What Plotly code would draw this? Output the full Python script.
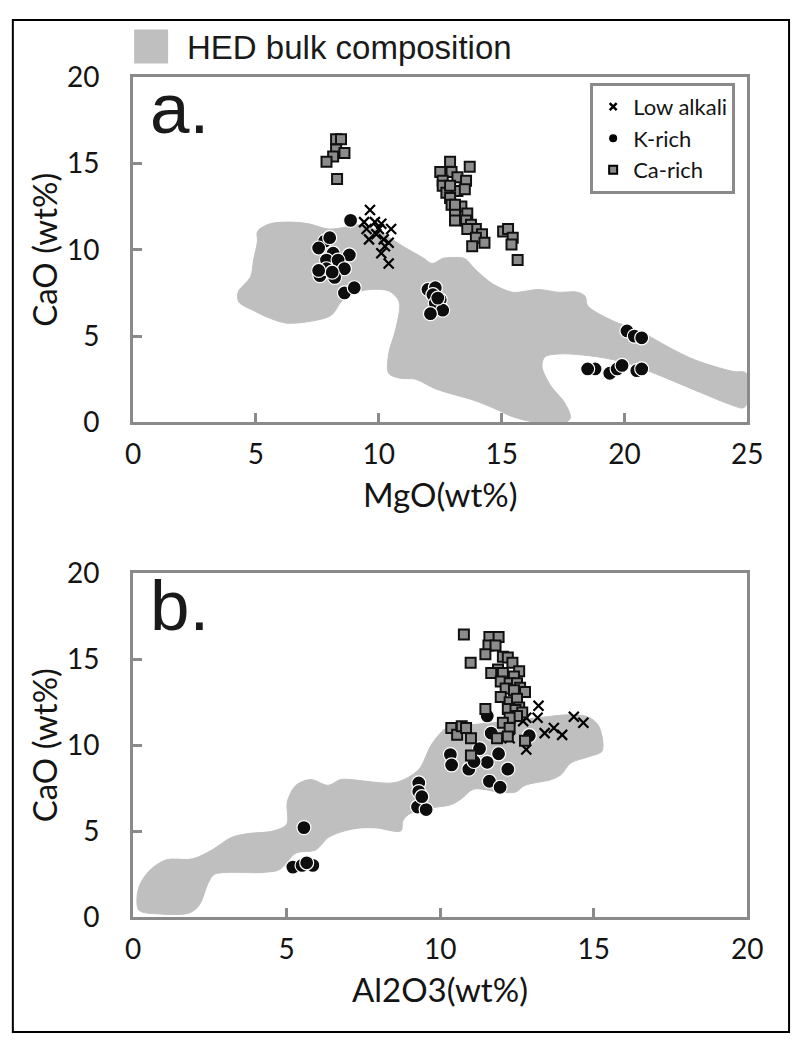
import plotly.graph_objects as go

# ---------------- data ----------------
# HED bulk composition field, panel a (MgO, CaO)
hed_mgo_a = [5.57, 6.36, 7.15, 7.94, 8.62, 9.13, 9.8, 10.43, 11.1, 11.78, 12.17, 12.6, 13.0, 13.48,
             13.95, 14.66, 15.45, 15.97, 16.5, 17.3, 18.1, 18.4, 18.5, 19.5, 20.6, 21.8, 22.85, 24.4,
             24.95, 24.95, 24.8, 24.15, 23.1, 21.5, 20.2, 18.9, 17.4, 16.76, 16.64, 17.0, 17.55, 17.8,
             17.6, 16.44, 15.45, 14.66, 13.87, 12.3, 11.5, 10.83, 10.4, 10.4, 10.7, 10.83, 10.43, 9.64,
             8.85, 8.46, 8.06, 7.27, 6.25, 5.57, 4.9, 4.3, 4.27, 4.78, 4.9, 5.06, 5.06]
hed_cao_a = [11.5, 11.6, 11.5, 11.2, 11.3, 11.45, 11.2, 10.7, 10.1, 9.55, 9.2, 9.5, 9.55, 9.5,
             8.83, 8.0, 7.54, 7.6, 7.7, 7.54, 7.54, 7.3, 6.76, 5.9, 5.3, 4.36, 3.63, 2.96,
             2.85, 1.0, 0.84, 1.12, 1.73, 2.68, 3.4, 3.8, 3.97, 3.8, 3.24, 2.12, 1.17, 0.28,
             0.0, 0.0, 0.33, 0.84, 1.28, 1.95, 2.5, 2.57, 2.85, 3.97, 5.47, 6.98, 7.6, 7.7,
             7.43, 6.98, 6.2, 5.87, 5.75, 6.03, 6.48, 6.98, 7.54, 8.44, 9.4, 10.5, 11.06]

# HED bulk composition field, panel b (Al2O3, CaO)
hed_al_b = [0.13, 0.25, 0.57, 1.07, 1.93, 2.56, 3.19, 3.73, 4.55, 5.0, 5.02, 5.3, 5.78, 6.35, 6.76,
            7.39, 7.93, 8.56, 9.29, 9.73, 10.24, 11.09, 12.13, 13.2, 14.25, 14.79, 15.13, 15.29,
            15.26, 14.88, 14.25, 13.93, 13.62, 12.76, 12.45, 11.94, 11.09, 10.68, 10.36, 9.6, 8.97,
            8.78, 8.72, 7.93, 7.39, 6.89, 6.35, 5.94, 5.3, 4.77, 4.23, 2.65, 2.46, 2.15, 1.83, 0.88, 0.19]
hed_cao_b = [1.24, 2.0, 2.76, 3.32, 3.38, 3.89, 4.62, 4.85, 5.0, 5.4, 6.7, 7.66, 8.0, 7.66, 8.0,
             7.94, 7.83, 7.83, 8.56, 10.08, 11.04, 11.2, 11.38, 11.6, 11.77, 11.66, 11.2, 10.25,
             9.63, 9.35, 8.96, 8.28, 8.0, 7.66, 7.27, 7.27, 7.44, 6.87, 6.54, 6.31, 5.97,
             5.58, 5.01, 5.18, 5.18, 5.01, 4.62, 3.89, 3.72, 2.76, 2.59, 2.48, 2.03, 0.68, 0.23, 0.17, 0.39]

# Panel a: MgO vs CaO
low_alkali_mgo = [9.64, 9.4, 9.84, 10.1, 9.5, 10.0, 10.5, 9.9, 9.6, 10.2, 10.4, 10.25, 10.1, 10.4]
low_alkali_cao_a = [12.3, 11.6, 11.6, 11.5, 11.2, 11.2, 11.2, 10.9, 10.6, 10.6, 10.4, 10.2, 9.8, 9.2]

k_rich_mgo = [8.85, 7.8, 8.0, 7.55, 8.14, 8.8, 7.87, 8.34, 8.6, 7.6, 7.87, 8.2, 8.1, 8.6, 9.0, 7.55,
              12.0, 12.3, 12.2, 12.5, 12.3, 12.6, 12.1, 12.4,
              20.1, 20.4, 20.7, 18.8, 18.5, 19.4, 19.7, 19.9, 20.5, 20.7]
k_rich_cao_a = [11.7, 10.5, 10.7, 10.1, 9.8, 9.7, 9.4, 9.4, 8.9, 8.5, 8.9, 8.4, 8.7, 7.5, 7.8, 8.8,
                7.7, 7.8, 7.4, 7.1, 6.9, 6.5, 6.3, 7.2,
                5.3, 5.0, 4.9, 3.1, 3.1, 2.85, 3.1, 3.3, 3.0, 3.1]

ca_rich_mgo = [8.26, 8.46, 8.26, 8.6, 8.14, 7.87, 8.3,
               12.9, 13.7, 12.5, 12.96, 13.2, 13.55, 12.6, 12.6, 13.2, 13.5, 12.75, 12.9, 12.96,
               13.36, 13.1, 13.6, 13.1, 13.55, 13.75, 13.95, 13.6, 14.2, 13.95, 14.3, 13.8, 13.1, 12.9,
               15.06, 15.26, 15.45, 15.4, 15.65]
ca_rich_cao_a = [16.4, 16.4, 15.8, 15.6, 15.4, 15.1, 14.1,
                 15.1, 14.8, 14.5, 14.5, 14.2, 14.0, 14.0, 13.7, 13.4, 13.5, 13.3, 13.0, 12.6,
                 12.5, 12.2, 12.1, 11.7, 11.7, 11.45, 11.2, 11.2, 10.9, 10.7, 10.4, 10.2, 12.6, 13.7,
                 11.06, 11.2, 10.7, 10.3, 9.4]

# Panel b: Al2O3 vs CaO
low_alkali_al = [13.2, 13.17, 12.8, 14.35, 14.66, 13.7, 13.4, 13.97, 12.26, 12.8, 12.7]
low_alkali_cao_b = [12.3, 11.6, 11.6, 11.65, 11.3, 11.0, 10.7, 10.6, 10.4, 9.75, 11.4]

k_rich_al = [11.53, 11.66, 12.9, 11.28, 11.9, 10.33, 10.37, 11.53, 10.93, 11.1, 12.2, 11.6, 11.95,
             9.3, 9.3, 9.26, 9.54, 9.4, 5.56, 5.2, 5.5, 5.85, 5.65]
k_rich_cao_b = [11.7, 10.7, 10.55, 9.8, 9.5, 9.45, 8.85, 9.0, 8.6, 9.05, 8.6, 7.9, 7.55,
                7.8, 7.3, 6.4, 6.25, 7.0, 5.2, 2.9, 3.0, 3.0, 3.15]

ca_rich_al = [10.77, 11.6, 11.9, 11.57, 11.8, 11.47, 10.99, 12.04, 12.2, 12.35, 11.88, 11.66, 12.04,
              12.57, 12.4, 11.97, 12.26, 12.5, 12.6, 12.13, 12.4, 12.76, 11.97, 12.26, 12.5, 12.57,
              11.47, 12.2, 12.45, 12.67, 12.5, 12.26, 12.04, 12.26, 10.36, 10.55, 10.7, 10.84, 11.0,
              12.2, 11.85, 11.0, 12.76]
ca_rich_cao_b = [16.45, 16.3, 16.3, 15.8, 15.8, 15.3, 14.8, 15.15, 15.1, 14.8, 14.4, 14.2, 14.2,
                 14.3, 14.0, 13.7, 13.6, 13.6, 13.35, 13.3, 13.2, 13.1, 12.8, 12.5, 12.7, 12.2,
                 12.1, 12.1, 12.05, 11.9, 11.7, 11.6, 11.3, 11.0, 11.0, 10.6, 11.1, 11.0, 10.4,
                 10.5, 10.4, 9.4, 10.25]

series_names = ["Low alkali", "K-rich", "Ca-rich"]
tick_vals_a = [0, 5, 10, 15, 20, 25]
tick_vals_b = [0, 5, 10, 15, 20]
tick_vals_y = [0, 5, 10, 15, 20]
x_titles = ["MgO(wt%)", "Al2O3(wt%)"]
y_title = "CaO (wt%)"

# ---------------- styles / layout geometry ----------------
FILL = "#bfbfbf"
AXC = "#8a8a8a"
TXT = "#141414"
FONT = "Lato"
W, H = 807, 1050


def fx(px):  # page pixel -> paper fraction (x)
    return px / W


def fy(py):  # page pixel -> paper fraction (y)
    return 1 - py / H


m_low = dict(symbol="x-thin", size=10, color="black", line=dict(width=2.2, color="black"))
m_k = dict(symbol="circle", size=14, color="#0d0d0d", line=dict(width=1.2, color="white"))
m_ca = dict(symbol="square", size=10, color="#8c8c8c", line=dict(width=2, color="#111111"))

fig = go.Figure()

for xs, ys, xa, ya in [(hed_mgo_a, hed_cao_a, "x", "y"), (hed_al_b, hed_cao_b, "x2", "y2")]:
    fig.add_trace(go.Scatter(x=xs + xs[:1], y=ys + ys[:1], mode="lines", fill="toself",
                             fillcolor=FILL, line=dict(color=FILL, width=1, shape="spline", smoothing=0.9),
                             hoverinfo="skip", showlegend=False, xaxis=xa, yaxis=ya))

fig.add_trace(go.Scatter(x=k_rich_mgo, y=k_rich_cao_a, mode="markers", marker=m_k,
                         showlegend=False, xaxis="x", yaxis="y", name=series_names[1]))
fig.add_trace(go.Scatter(x=low_alkali_mgo, y=low_alkali_cao_a, mode="markers", marker=m_low,
                         showlegend=False, xaxis="x", yaxis="y", name=series_names[0]))
fig.add_trace(go.Scatter(x=ca_rich_mgo, y=ca_rich_cao_a, mode="markers", marker=m_ca,
                         showlegend=False, xaxis="x", yaxis="y", name=series_names[2]))

fig.add_trace(go.Scatter(x=k_rich_al, y=k_rich_cao_b, mode="markers", marker=m_k,
                         showlegend=False, xaxis="x2", yaxis="y2", name=series_names[1]))
fig.add_trace(go.Scatter(x=low_alkali_al, y=low_alkali_cao_b, mode="markers", marker=m_low,
                         showlegend=False, xaxis="x2", yaxis="y2", name=series_names[0]))
fig.add_trace(go.Scatter(x=ca_rich_al, y=ca_rich_cao_b, mode="markers", marker=m_ca,
                         showlegend=False, xaxis="x2", yaxis="y2", name=series_names[2]))

# legend-only entries (small symbols as in the reference)
leg_markers = [dict(symbol="x-thin", size=7, color="black", line=dict(width=2.5, color="black")),
               dict(symbol="circle", size=8, color="black"),
               dict(symbol="square", size=8, color="#8c8c8c", line=dict(width=2, color="black"))]
for nm, mk in zip(series_names, leg_markers):
    fig.add_trace(go.Scatter(x=[None], y=[None], mode="markers", marker=mk, name=nm,
                             xaxis="x", yaxis="y", showlegend=True))

xdom = [fx(129), fx(762)]
ydom_a = [fy(418), fy(61)]
ydom_b = [fy(929), fy(574)]

axis_common = dict(showline=True, linecolor=AXC, linewidth=3, mirror=True, ticks="inside",
                   ticklen=9, tickwidth=3, tickcolor=AXC, showgrid=False, zeroline=False,
                   tickfont=dict(family=FONT, size=28, color=TXT))
xtitle_font = dict(family=FONT, size=33, color=TXT)
ytitle_font = dict(family=FONT, size=33, color=TXT)

fig.update_layout(
    width=W, height=H, margin=dict(l=0, r=0, t=0, b=0),
    paper_bgcolor="white", plot_bgcolor="white",
    xaxis=dict(domain=xdom, range=[0, 25], tickvals=tick_vals_a, anchor="y",
               ticklabelstandoff=5, **axis_common),
    yaxis=dict(domain=ydom_a, range=[0, 20], tickvals=tick_vals_y, anchor="x",
               ticklabelstandoff=25,
               title=dict(text=y_title, font=ytitle_font, standoff=0),
               **axis_common),
    xaxis2=dict(domain=xdom, range=[0, 20], tickvals=tick_vals_b, anchor="y2",
                ticklabelstandoff=5, **axis_common),
    yaxis2=dict(domain=ydom_b, range=[0, 20], tickvals=tick_vals_y, anchor="x2",
                ticklabelstandoff=25,
                title=dict(text=y_title, font=ytitle_font, standoff=0),
                **axis_common),
    legend=dict(x=fx(600), y=fy(67), xanchor="left", yanchor="top", bgcolor="white",
                bordercolor=AXC, borderwidth=3, itemwidth=30, tracegroupgap=0,
                font=dict(family=FONT, size=22, color=TXT)),
    showlegend=True,
)

# x-axis titles, centred under each panel
for txt, xref, ypx in [(x_titles[0], "x domain", 492), (x_titles[1], "x2 domain", 1004)]:
    fig.add_annotation(xref=xref, yref="paper", x=0.5, y=fy(ypx), xanchor="center", yanchor="middle",
                       text=txt, showarrow=False, font=xtitle_font)

# HED legend key (above panel a) and panel letters
fig.add_shape(type="rect", xref="paper", yref="paper", x0=fx(130), x1=fx(165),
              y0=fy(47), y1=fy(12), fillcolor=FILL, line=dict(width=0))
fig.add_annotation(xref="paper", yref="paper", x=fx(182), y=fy(31), xanchor="left",
                   yanchor="middle", text="HED bulk composition", showarrow=False,
                   font=dict(family="Liberation Sans", size=33, color="#1a1a1a"))
fig.add_annotation(xref="x domain", yref="y domain", x=0.024, y=0.789, xanchor="left", yanchor="bottom",
                   text="a.", showarrow=False, font=dict(family="Liberation Sans", size=71, color="#1a1a1a"))
fig.add_annotation(xref="x2 domain", yref="y2 domain", x=0.024, y=0.787, xanchor="left", yanchor="bottom",
                   text="b.", showarrow=False, font=dict(family="Liberation Sans", size=71, color="#1a1a1a"))
# outer frame of the figure
fig.add_shape(type="rect", xref="paper", yref="paper", x0=fx(5), x1=fx(805), y0=fy(1048), y1=fy(2),
              line=dict(color="black", width=2), fillcolor="rgba(0,0,0,0)", layer="below")

fig.write_html("out.html")
